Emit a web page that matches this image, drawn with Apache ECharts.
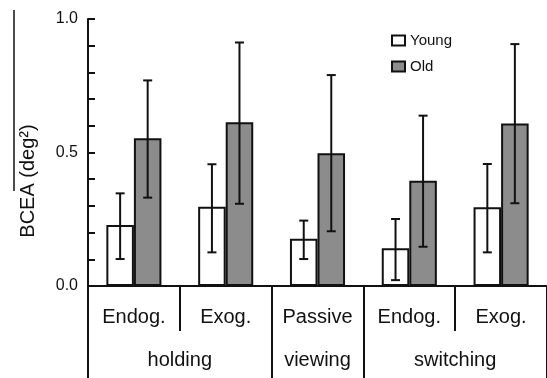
<!DOCTYPE html>
<html>
<head>
<meta charset="utf-8">
<script src="https://cdn.jsdelivr.net/npm/echarts@6/dist/echarts.min.js"></script>
<style>html,body{margin:0;padding:0;background:#fff}#c{width:547px;height:378px}</style>
</head>
<body>
<div id="c"></div>
<script>
const categories = ['Endog.', 'Exog.', 'Passive', 'Endog.', 'Exog.'];
const groupLabels = ['holding', 'viewing', 'switching'];
const groupCenters = [1, 2.5, 4];
const groupBounds = [0, 2, 3, 5];
const youngMean = [0.228, 0.297, 0.177, 0.141, 0.295];
const youngLow = [0.101, 0.126, 0.101, 0.022, 0.126];
const youngHigh = [0.347, 0.456, 0.245, 0.251, 0.457];
const oldMean = [0.553, 0.613, 0.497, 0.394, 0.609];
const oldLow = [0.331, 0.308, 0.205, 0.147, 0.310];
const oldHigh = [0.770, 0.912, 0.790, 0.638, 0.906];
const yTicks = [0, 0.5, 1.0];

const FONT = 'Liberation Sans';
const chart = echarts.init(document.getElementById('c'));

function errSeries(name, low, high, dir) {
  return {
    type: 'custom',
    name: name + ' err',
    xAxisIndex: 0,
    z: 5,
    silent: true,
    data: low.map((l, i) => [i, l, high[i]]),
    encode: { x: 0, y: [1, 2] },
    renderItem: function (params, api) {
      const i = api.value(0);
      const lo = api.coord([i, api.value(1)]);
      const hi = api.coord([i, api.value(2)]);
      const w = api.size([1, 0])[0];
      const x = lo[0] + dir * 0.15 * w;
      const cap = 4.5;
      const st = { stroke: '#111', lineWidth: 2 };
      return {
        type: 'group',
        children: [
          { type: 'line', shape: { x1: x, y1: lo[1], x2: x, y2: hi[1] }, style: st },
          { type: 'line', shape: { x1: x - cap, y1: lo[1], x2: x + cap, y2: lo[1] }, style: st },
          { type: 'line', shape: { x1: x - cap, y1: hi[1], x2: x + cap, y2: hi[1] }, style: st }
        ]
      };
    }
  };
}

chart.setOption({
  animation: false,
  backgroundColor: '#fff',
  grid: { left: 88, right: 0, top: 19, bottom: 92 },
  legend: {
    orient: 'vertical',
    left: 386,
    top: 28,
    itemWidth: 13,
    itemHeight: 10,
    itemGap: 11,
    icon: 'rect',
    data: ['Young', 'Old'],
    textStyle: { fontFamily: FONT, fontSize: 15, color: '#111' }
  },
  xAxis: [
    {
      type: 'category',
      data: categories,
      boundaryGap: true,
      axisLine: { show: true, lineStyle: { color: '#111', width: 2 } },
      axisTick: { show: true, alignWithLabel: false, length: 45, lineStyle: { color: '#111', width: 2 } },
      axisLabel: { fontFamily: FONT, fontSize: 20, color: '#111', margin: 21, interval: 0 }
    },
    {
      type: 'value',
      min: 0,
      max: 5,
      position: 'bottom',
      offset: 0,
      splitLine: { show: false },
      axisLine: { show: false },
      axisTick: { show: true, customValues: groupBounds, length: 92, lineStyle: { color: '#111', width: 2 } },
      axisLabel: {
        customValues: groupCenters,
        fontFamily: FONT, fontSize: 20, color: '#111', margin: 64,
        formatter: function (v) {
          const k = groupCenters.indexOf(v);
          return k >= 0 ? groupLabels[k] : '';
        }
      }
    }
  ],
  yAxis: {
    type: 'value',
    min: 0,
    max: 1,
    interval: 0.5,
    splitLine: { show: false },
    axisLine: { show: true, lineStyle: { color: '#111', width: 2 } },
    axisTick: { show: true, inside: true, length: 7, lineStyle: { color: '#111', width: 2 } },
    minorTick: { show: true, splitNumber: 5, length: 7, lineStyle: { color: '#111', width: 2 } },
    axisLabel: {
      fontFamily: FONT, fontSize: 16, color: '#111', margin: 10,
      customValues: yTicks,
      formatter: v => v.toFixed(1)
    }
  },
  graphic: [
    {
      type: 'text',
      x: 28,
      y: 181,
      rotation: Math.PI / 2,
      style: {
        text: 'BCEA (deg²)',
        font: '20px "Liberation Sans"',
        fill: '#111',
        align: 'center',
        verticalAlign: 'middle'
      }
    },
    {
      type: 'line',
      shape: { x1: 14, y1: 10, x2: 14, y2: 191 },
      style: { stroke: '#111', lineWidth: 1.5 }
    }
  ],
  series: [
    {
      name: 'Young',
      type: 'bar',
      xAxisIndex: 0,
      data: youngMean,
      barWidth: '30%',
      barGap: '0%',
      itemStyle: { color: '#ffffff', borderColor: '#111', borderWidth: 2 }
    },
    {
      name: 'Old',
      type: 'bar',
      xAxisIndex: 0,
      data: oldMean,
      barWidth: '30%',
      barGap: '0%',
      itemStyle: { color: '#8c8c8c', borderColor: '#111', borderWidth: 2 }
    },
    errSeries('Young', youngLow, youngHigh, -1),
    errSeries('Old', oldLow, oldHigh, 1)
  ]
});
</script>
</body>
</html>
